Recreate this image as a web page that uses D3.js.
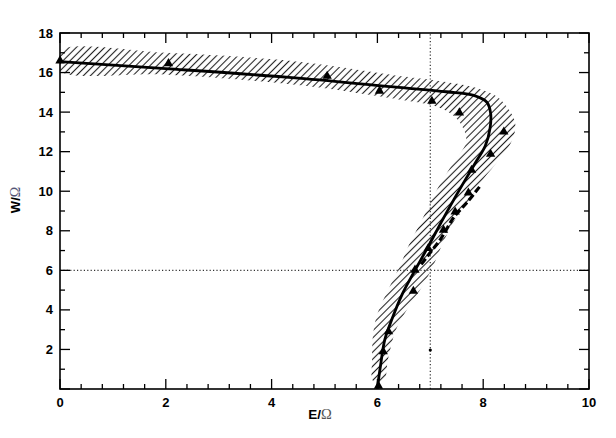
<!DOCTYPE html>
<html><head><meta charset="utf-8">
<script src="https://cdn.jsdelivr.net/npm/d3@7"></script>
<style>
html,body{margin:0;padding:0;background:#fff;}
text{font-family:Arial,"Liberation Sans",Helvetica,sans-serif;}
</style></head>
<body>
<svg id="chart" width="616" height="438"></svg>
<script>
// ---- data ----
const xTickLabels = [0, 2, 4, 6, 8, 10];
const yTickLabels = [2, 4, 6, 8, 10, 12, 14, 16, 18];
// main fitted curve (E, W)
const curveE = [6.0, 6.06, 6.14, 6.27, 6.47, 6.71, 6.98, 7.2, 7.45, 7.7, 7.89, 8.04, 8.13, 8.14, 8.07, 7.82, 7.3, 6.4, 4.5, 2.0, 0];
const curveW = [0.05, 1.2, 2.5, 3.5, 4.8, 6.0, 7.3, 8.4, 9.6, 10.75, 11.6, 12.3, 13.2, 13.95, 14.5, 14.85, 15.03, 15.25, 15.72, 16.2, 16.55];
// secondary dashed branch
const branchE = [7.93, 7.7, 7.45, 7.2, 7.0, 6.8];
const branchW = [10.22, 9.45, 8.7, 7.6, 6.9, 6.2];
// triangle data points
const triE = [0.0, 2.05, 5.05, 6.04, 7.03, 7.55, 8.39, 8.14, 7.78, 7.72, 7.47, 7.25, 6.96, 6.71, 6.68, 6.21, 6.11, 6.02];
const triW = [16.6, 16.46, 15.82, 15.07, 14.56, 13.97, 13.0, 11.88, 11.07, 9.92, 8.96, 8.04, 7.11, 6.02, 4.95, 2.9, 1.89, 0.15];
// isolated dot
const dotE = [7.0];
const dotW = [1.97];
// hatched uncertainty band: outer and inner edges
const bandOuterE = [0, 2, 4.5, 6.5, 7.1, 7.9, 8.3, 8.6, 8.55, 8.3, 8.0, 7.75, 7.45, 7.24, 7.05, 6.85, 6.6, 6.35, 6.2, 6.12];
const bandOuterW = [17.1, 17.0, 16.55, 15.8, 15.6, 15.2, 14.7, 13.5, 12.6, 11.6, 10.6, 9.6, 8.5, 7.4, 6.2, 5.2, 4.2, 3.0, 1.5, 0.4];
const bandInnerE = [0, 2, 4.5, 6.5, 7.1, 7.4, 7.6, 7.68, 7.45, 7.15, 6.85, 6.6, 6.42, 6.2, 6.0, 5.92, 5.9, 5.92];
const bandInnerW = [16.1, 15.9, 15.37, 14.6, 14.3, 13.9, 13.3, 12.5, 11.5, 10.2, 8.6, 7.3, 6.2, 5.0, 3.8, 2.8, 1.5, 0.4];
const refE = 7;  // dotted vertical reference
const refW = 6;  // dotted horizontal reference

// ---- layout ----
const svg = d3.select("#chart");
const L = 60, R = 589, T = 33, B = 389;
const x = d3.scaleLinear().domain([0, 10]).range([L, R]);
const y = d3.scaleLinear().domain([0, 18]).range([B, T]);

const defs = svg.append("defs");
const pat = defs.append("pattern").attr("id", "hatch")
  .attr("patternUnits", "userSpaceOnUse").attr("width", 5).attr("height", 5)
  .attr("patternTransform", "rotate(45)");
pat.append("line").attr("x1", 2.5).attr("y1", 0).attr("x2", 2.5).attr("y2", 5)
  .attr("stroke", "#222").attr("stroke-width", 1.1);
defs.append("clipPath").attr("id", "plotclip").append("rect")
  .attr("x", L - 6).attr("y", T).attr("width", R - L + 6).attr("height", B - T);
defs.append("clipPath").attr("id", "innerclip").append("rect")
  .attr("x", L).attr("y", T).attr("width", R - L).attr("height", B - T);

const gi = svg.append("g").attr("clip-path", "url(#innerclip)");
const g = svg.append("g").attr("clip-path", "url(#plotclip)");

// band
const bandPts = bandOuterE.map((e, i) => [e, bandOuterW[i]])
  .concat(bandInnerE.map((e, i) => [e, bandInnerW[i]]).reverse());
const bandLine = d3.line().x(d => x(d[0])).y(d => y(d[1])).curve(d3.curveCatmullRomClosed);
gi.append("path").attr("d", bandLine(bandPts)).attr("fill", "url(#hatch)").attr("stroke", "none");

// reference dotted lines
gi.append("line").attr("x1", x(refE)).attr("x2", x(refE)).attr("y1", y(0)).attr("y2", y(18))
  .attr("stroke", "#333").attr("stroke-width", 1.2).attr("stroke-dasharray", "1.2,2.2");
gi.append("line").attr("x1", x(0)).attr("x2", x(10)).attr("y1", y(refW)).attr("y2", y(refW))
  .attr("stroke", "#333").attr("stroke-width", 1.2).attr("stroke-dasharray", "1.2,2.2");

// main curve
const line = d3.line().x(d => x(d[0])).y(d => y(d[1])).curve(d3.curveCatmullRom.alpha(0.5));
gi.append("path").attr("d", line(curveE.map((e, i) => [e, curveW[i]])))
  .attr("fill", "none").attr("stroke", "#000").attr("stroke-width", 2.8).attr("stroke-linecap", "round");
gi.append("path").attr("d", line(branchE.map((e, i) => [e, branchW[i]])))
  .attr("fill", "none").attr("stroke", "#000").attr("stroke-width", 3.2).attr("stroke-dasharray", "7,3");

// triangles
const tri = d3.symbol().type(d3.symbolTriangle).size(38);
g.selectAll(".tri").data(triE.map((e, i) => [e, triW[i]])).join("path")
  .attr("d", tri).attr("transform", d => `translate(${x(d[0])},${y(d[1])})`).attr("fill", "#000");
g.selectAll(".dot").data(dotE.map((e, i) => [e, dotW[i]])).join("circle")
  .attr("cx", d => x(d[0])).attr("cy", d => y(d[1])).attr("r", 1.6).attr("fill", "#000");

// frame
svg.append("rect").attr("x", L).attr("y", T).attr("width", R - L).attr("height", B - T)
  .attr("fill", "none").attr("stroke", "#000").attr("stroke-width", 1.6);

// ticks
const ax = svg.append("g").attr("stroke", "#000").attr("stroke-width", 1.3);
d3.range(0, 10.001, 0.4).forEach(v => {
  const major = Math.abs(v / 2 - Math.round(v / 2)) < 1e-6;
  const len = major ? 10 : 5;
  ax.append("line").attr("x1", x(v)).attr("x2", x(v)).attr("y1", B).attr("y2", B - len);
  ax.append("line").attr("x1", x(v)).attr("x2", x(v)).attr("y1", T).attr("y2", T + len);
});
d3.range(0, 18.001, 1).forEach(v => {
  const major = v % 2 === 0;
  const len = major ? 10 : 5;
  ax.append("line").attr("x1", L).attr("x2", L + len).attr("y1", y(v)).attr("y2", y(v));
  ax.append("line").attr("x1", R).attr("x2", R - len).attr("y1", y(v)).attr("y2", y(v));
});

// tick labels
svg.selectAll(".xl").data(xTickLabels).join("text")
  .attr("x", d => x(d)).attr("y", 407).attr("text-anchor", "middle")
  .attr("font-size", 13).attr("font-weight", "bold").text(d => d);
svg.selectAll(".yl").data(yTickLabels).join("text")
  .attr("x", 53).attr("y", d => y(d) + 4.5).attr("text-anchor", "end")
  .attr("font-size", 13).attr("font-weight", "bold").text(d => d);

// axis titles
const xt = svg.append("text").attr("x", 320).attr("y", 419).attr("text-anchor", "middle").attr("font-size", 13.5);
xt.append("tspan").attr("font-weight", "bold").text("E/");
xt.append("tspan").attr("font-family", "'Liberation Serif','DejaVu Serif',serif").attr("fill", "#555").attr("font-size", 14.5).text("Ω");
const yt = svg.append("text").attr("transform", "translate(20,200) rotate(-90)").attr("text-anchor", "middle").attr("font-size", 13);
yt.append("tspan").attr("font-weight", "bold").text("W/");
yt.append("tspan").attr("font-family", "'Liberation Serif','DejaVu Serif',serif").attr("fill", "#557").attr("font-size", 14).text("Ω");
</script>
</body></html>
